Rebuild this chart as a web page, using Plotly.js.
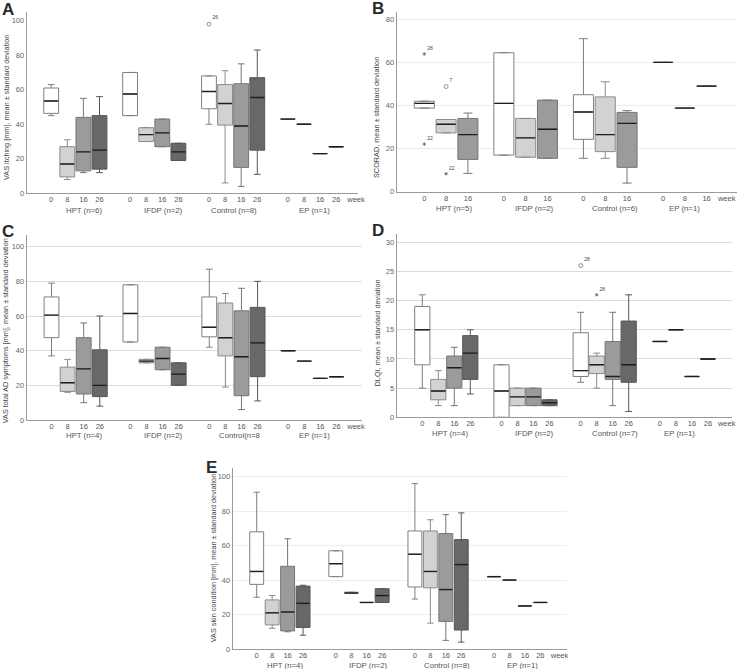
<!DOCTYPE html>
<html><head><meta charset="utf-8">
<script src="https://cdn.plot.ly/plotly-3.0.1.min.js"></script>
<style>html,body{margin:0;padding:0;background:#fff}#chart{width:738px;height:669px}</style>
</head><body><div id="chart"></div>
<script>
// ---------- data ----------
const WEEKS4 = ['0', '8', '16', '26'];
const WEEKS3 = ['0', '8', '16'];

const GROUPS_A = ['HPT (n=6)', 'IFDP (n=2)', 'Control (n=8)', 'EP (n=1)'];
const GROUPS_B = ['HPT (n=5)', 'IFDP (n=2)', 'Control (n=6)', 'EP (n=1)'];
const GROUPS_C = ['HPT (n=4)', 'IFDP (n=2)', 'Control(n=8', 'EP (n=1)'];
const GROUPS_D = ['HPT (n=4)', 'IFDP (n=2)', 'Control (n=7)', 'EP (n=1)'];
const GROUPS_E = ['HPT (n=4)', 'IFDP (n=2)', 'Control (n=8)', 'EP (n=1)'];

// each entry per group: [lower whisker, q1, median, q3, upper whisker]
const A_W0  = [[45, 46.3, 53.5, 61, 63], [45, 45, 57.5, 70, 70], [40, 49, 59, 68, 68], [43, 43, 43, 43, 43]];
const A_W8  = [[8, 9.5, 17, 27, 31], [30, 30, 34, 38, 38], [6, 39.5, 52, 63, 71], [40, 40, 40, 40, 40]];
const A_W16 = [[12, 13, 24, 44, 55], [27, 27, 35, 43, 43], [4, 15, 39, 63.5, 75], [23, 23, 23, 23, 23]];
const A_W26 = [[12, 14, 25, 45, 56], [19, 19, 24, 29, 29], [11, 25, 55.5, 67, 83], [27, 27, 27, 27, 27]];
const A_OUT = [[2, 0, 98, 'o', '26']];

const B_W0  = [[38.8, 38.8, 41, 42, 42], [17, 17, 41, 64.5, 64.5], [15.5, 24.3, 37, 45, 71], [60, 60, 60, 60, 60]];
const B_W8  = [[27.3, 27.3, 31.3, 33.5, 33.5], [16, 16, 25, 34, 34], [15.5, 18.6, 26.5, 44, 51], [38.8, 38.8, 38.8, 38.8, 38.8]];
const B_W16 = [[8.5, 15, 26.5, 34, 36.5], [15.5, 15.5, 29, 42.5, 42.5], [4, 11.3, 31.7, 36.8, 37.6], [49, 49, 49, 49, 49]];
const B_OUT = [[0, 0, 63.9, '*', '28'], [0, 0, 22.1, '*', '22'], [0, 1, 48.8, 'o', '7'], [0, 1, 8.3, '*', '22']];

const C_W0  = [[37, 47.5, 60.5, 71, 79], [45, 45, 61.5, 78, 78], [42, 48, 53.5, 71, 87], [40, 40, 40, 40, 40]];
const C_W8  = [[16, 16.5, 21.5, 30.5, 35], [33, 33, 34, 35, 35], [19, 37, 47.5, 67.5, 73], [34, 34, 34, 34, 34]];
const C_W16 = [[10, 15, 29.5, 47.5, 56], [29, 29, 35.5, 42, 42], [6, 14, 36.5, 63, 76], [24, 24, 24, 24, 24]];
const C_W26 = [[8, 13.5, 20, 40.5, 60], [20, 20, 26.5, 33, 33], [11, 25, 44.5, 65, 80], [25, 25, 25, 25, 25]];
const C_OUT = [];

const D_W0  = [[5, 9, 15, 19, 21], [0, 0, 4.5, 9, 9], [6, 7, 8, 14.5, 18], [13, 13, 13, 13, 13]];
const D_W8  = [[2, 3, 4.5, 6.5, 8], [2, 2, 3.5, 5, 5], [5, 7.5, 9, 10.5, 11], [15, 15, 15, 15, 15]];
const D_W16 = [[2, 5, 8.5, 10.5, 12], [2, 2, 3.5, 5, 5], [2, 6.5, 7, 13, 18], [7, 7, 7, 7, 7]];
const D_W26 = [[4, 6.5, 11, 14, 15], [2, 2, 2.5, 3, 3], [1, 6, 9, 16.5, 21], [10, 10, 10, 10, 10]];
const D_OUT = [[2, 0, 26, 'o', '28'], [2, 1, 21, '*', '28']];

const E_W0  = [[30, 37.5, 45, 68, 91], [42, 42, 49.5, 57, 57], [29, 36, 55, 68.5, 96], [42, 42, 42, 42, 42]];
const E_W8  = [[12, 14, 21, 28.5, 31], [32.3, 32.3, 32.5, 33, 33], [15, 35.5, 45, 68.5, 75], [40, 40, 40, 40, 40]];
const E_W16 = [[10, 10.5, 21.5, 48, 64], [27, 27, 27, 27, 27], [5, 16, 34.5, 67, 78], [25, 25, 25, 25, 25]];
const E_W26 = [[8, 12.5, 26.5, 36.5, 37], [27, 27, 31, 35, 35], [4, 11, 49, 63.5, 79], [27, 27, 27, 27, 27]];
const E_OUT = [];

const TITLE_A = 'VAS itching [mm], mean ± standard deviation';
const TITLE_B = 'SCORAD, mean ± standard deviation';
const TITLE_C = 'VAS total AD symptoms [mm], mean ± standard deviation';
const TITLE_D = 'DLQI, mean ± standard deviation';
const TITLE_E = 'VAS skin condition [mm], mean ± standard deviation';

// ---------- styling / layout ----------
const FILLS = ['#ffffff', '#d2d2d2', '#9b9b9b', '#686868'];
const LINES = ['#7f7f7f', '#8a8a8a', '#767676', '#565656'];
const FONT = 'Liberation Sans, Arial, sans-serif';
const W = 738, H = 669;

const panels = [
  {letter: 'A', weeks: WEEKS4, groups: GROUPS_A, stats: [A_W0, A_W8, A_W16, A_W26], out: A_OUT, title: TITLE_A,
   L: 26.7, R: 358, zeroPx: 193.3, tTopVal: 100, tTopPx: 20.7, ymax: 105, dtick: 20,
   hpt0: 51.2, unit: 16.1, G: 4.9, bw: 0.92, grid: null,
   ytX: 6, ytY: 108, labY: 210.7, labOff: [8.7, 9, 1, 2], weekX: 356, letX: 8, letY: 9.5},
  {letter: 'B', weeks: WEEKS3, groups: GROUPS_B, stats: [B_W0, B_W8, B_W16], out: B_OUT, title: TITLE_B,
   L: 396.7, R: 736.7, zeroPx: 191.7, tTopVal: 80, tTopPx: 19.3, ymax: 83.5, dtick: 20,
   hpt0: 424.3, unit: 21.8, G: 3.65, bw: 0.92, grid: '#ededed',
   ytX: 376, ytY: 118, labY: 209, labOff: [8, 9, 9.7, 0], weekX: 726.7, letX: 378, letY: 8.5},
  {letter: 'C', weeks: WEEKS4, groups: GROUPS_C, stats: [C_W0, C_W8, C_W16, C_W26], out: C_OUT, title: TITLE_C,
   L: 26.7, R: 361.7, zeroPx: 420, tTopVal: 100, tTopPx: 246.7, ymax: 106.5, dtick: 20,
   hpt0: 51.5, unit: 16.1, G: 4.9, bw: 0.92, grid: '#dcdcdc',
   ytX: 5.5, ytY: 330.8, labY: 435, labOff: [8.5, 9.3, 6, 2.5], weekX: 356, letX: 8, letY: 231},
  {letter: 'D', weeks: WEEKS4, groups: GROUPS_D, stats: [D_W0, D_W8, D_W16, D_W26], out: D_OUT, title: TITLE_D,
   L: 396.7, R: 731.7, zeroPx: 417.3, tTopVal: 30, tTopPx: 242.3, ymax: 31.5, dtick: 5,
   hpt0: 422.3, unit: 16, G: 4.95, bw: 0.95, grid: '#dcdcdc',
   ytX: 377, ytY: 332.4, labY: 433.3, labOff: [4, 9, 10.7, -4.6], weekX: 726.7, letX: 378, letY: 230},
  {letter: 'E', weeks: WEEKS4, groups: GROUPS_E, stats: [E_W0, E_W8, E_W16, E_W26], out: E_OUT, title: TITLE_E,
   L: 232.7, R: 567, zeroPx: 649, tTopVal: 100, tTopPx: 476.7, ymax: 105, dtick: 20,
   hpt0: 256.7, unit: 15.45, G: 5.12, bw: 0.9, grid: '#ededed',
   ytX: 213, ytY: 558.3, labY: 665, labOff: [5, 9.5, 9, 5], weekX: 559.5, letX: 211, letY: 467}
];

const traces = [];
const annotations = [];
const layout = {
  width: W, height: H, autosize: false,
  margin: {l: 0, r: 0, t: 0, b: 0},
  paper_bgcolor: '#ffffff', plot_bgcolor: 'rgba(0,0,0,0)',
  boxmode: 'overlay', showlegend: false,
  font: {family: FONT, size: 7.5, color: '#555'}
};

panels.forEach((p, k) => {
  const n = k === 0 ? '' : String(k + 1);
  const xa = 'x' + n, ya = 'y' + n;
  const pxPerVal = (p.zeroPx - p.tTopPx) / p.tTopVal;
  const topPx = p.zeroPx - p.ymax * pxPerVal;
  const x0 = (p.L - p.hpt0) / p.unit, x1 = (p.R - p.hpt0) / p.unit;
  const pos = (g, w) => g * p.G + w;
  const nw = p.weeks.length;

  const tickvals = [], ticktext = [];
  p.groups.forEach((_, g) => p.weeks.forEach((wk, w) => { tickvals.push(pos(g, w)); ticktext.push(wk); }));
  tickvals.push((p.weekX - p.hpt0) / p.unit); ticktext.push('week');

  layout['xaxis' + n] = {
    domain: [p.L / W, p.R / W], range: [x0, x1], anchor: ya,
    showline: true, linecolor: '#9a9a9a', linewidth: 1, showgrid: false, zeroline: false,
    tickmode: 'array', tickvals, ticktext, ticks: '', ticklabelstandoff: -1,
    tickfont: {family: FONT, size: 7.5, color: '#555'}, fixedrange: true
  };
  layout['yaxis' + n] = {
    domain: [1 - p.zeroPx / H, 1 - topPx / H], range: [0, p.ymax], anchor: xa,
    showline: true, linecolor: '#9a9a9a', linewidth: 1, zeroline: false,
    showgrid: !!p.grid, gridcolor: p.grid || '#fff', gridwidth: 1,
    tick0: 0, dtick: p.dtick, ticks: '',
    tickfont: {family: FONT, size: 7.5, color: '#666'}, fixedrange: true
  };

  p.weeks.forEach((wk, w) => {
    const s = p.stats[w];
    const xs = s.map((_, g) => pos(g, w));
    traces.push({
      type: 'box', xaxis: xa, yaxis: ya, x: xs,
      lowerfence: s.map(v => v[0]), q1: s.map(v => v[1]), median: s.map(v => v[2]),
      q3: s.map(v => v[3]), upperfence: s.map(v => v[4]),
      width: p.bw, fillcolor: FILLS[w], line: {color: LINES[w], width: 1},
      whiskerwidth: 0.45, boxpoints: false, hoverinfo: 'skip', showlegend: false
    });
    const mx = [], my = [];
    s.forEach((v, g) => { mx.push(pos(g, w) - p.bw / 2 + 0.02, pos(g, w) + p.bw / 2 - 0.02, null); my.push(v[2], v[2], null); });
    traces.push({type: 'scatter', mode: 'lines', xaxis: xa, yaxis: ya, x: mx, y: my,
      line: {color: '#1e1e1e', width: 1.4}, hoverinfo: 'skip', showlegend: false});
  });

  if (p.out.length) {
    traces.push({
      type: 'scatter', mode: 'markers+text', xaxis: xa, yaxis: ya,
      x: p.out.map(o => pos(o[0], o[1])), y: p.out.map(o => o[2]),
      text: p.out.map(o => o[4]), textposition: 'top right',
      textfont: {family: FONT, size: 5, color: '#444'},
      marker: {symbol: p.out.map(o => o[3] === 'o' ? 'circle-open' : 'asterisk-open'),
               size: p.out.map(o => o[3] === 'o' ? 4 : 3),
               color: '#444', line: {color: '#444', width: 0.8}},
      hoverinfo: 'skip', showlegend: false, cliponaxis: false
    });
  }

  p.groups.forEach((gname, g) => {
    annotations.push({xref: xa, yref: 'paper', x: pos(g, (nw - 1) / 2) + p.labOff[g] / p.unit, y: 1 - p.labY / H,
      text: gname, showarrow: false, xanchor: 'center', yanchor: 'middle',
      font: {family: FONT, size: 7.8, color: '#555'}});
  });
  annotations.push({xref: 'paper', yref: 'paper', x: p.ytX / W, y: 1 - p.ytY / H, text: p.title, textangle: -90,
    showarrow: false, xanchor: 'center', yanchor: 'middle', font: {family: FONT, size: 7.3, color: '#444'}});
  annotations.push({xref: 'paper', yref: 'paper', x: p.letX / W, y: 1 - p.letY / H, text: '<b>' + p.letter + '</b>',
    showarrow: false, xanchor: 'center', yanchor: 'middle', font: {family: FONT, size: 17, color: '#2a2a2a'}});
});

layout.annotations = annotations;
Plotly.newPlot('chart', traces, layout, {displayModeBar: false, staticPlot: true});
</script></body></html>
